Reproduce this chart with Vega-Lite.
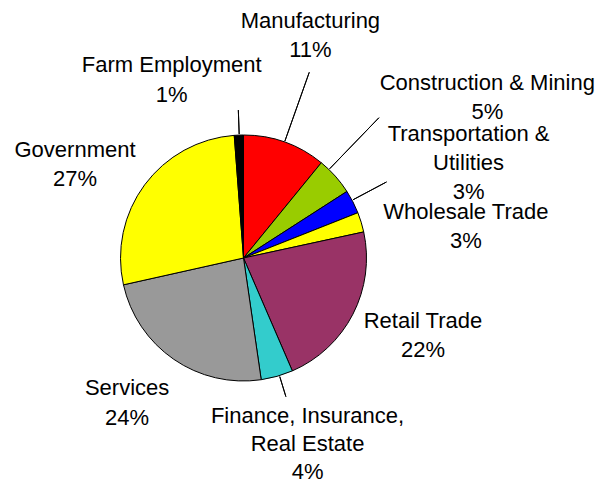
{
  "$schema": "https://vega.github.io/schema/vega-lite/v6.json",
  "width": 487,
  "height": 450,
  "autosize": {"type": "none"},
  "padding": {"left": 0, "top": 33, "right": 123, "bottom": 0},
  "background": "white",
  "config": {"view": {"stroke": null}},
  "data": {
    "values": [
      {"sector": "Manufacturing", "value": 10.9, "order": 1, "label": "Manufacturing\n11%"},
      {"sector": "Construction & Mining", "value": 5.0, "order": 2, "label": "Construction & Mining\n5%"},
      {"sector": "Transportation & Utilities", "value": 3.1, "order": 3, "label": "Transportation &\nUtilities\n3%"},
      {"sector": "Wholesale Trade", "value": 2.6, "order": 4, "label": "Wholesale Trade\n3%"},
      {"sector": "Retail Trade", "value": 21.9, "order": 5, "label": "Retail Trade\n22%"},
      {"sector": "Finance, Insurance, Real Estate", "value": 4.2, "order": 6, "label": "Finance, Insurance,\nReal Estate\n4%"},
      {"sector": "Services", "value": 23.8, "order": 7, "label": "Services\n24%"},
      {"sector": "Government", "value": 27.3, "order": 8, "label": "Government\n27%"},
      {"sector": "Farm Employment", "value": 1.2, "order": 9, "label": "Farm Employment\n1%"}
    ]
  },
  "transform": [
    {"stack": "value", "groupby": [], "sort": [{"field": "order", "order": "ascending"}], "as": ["v0", "v1"]}
  ],
  "layer": [
    {
      "mark": {"type": "arc", "radius": 123, "stroke": "black", "strokeWidth": 1},
      "encoding": {
        "theta": {"field": "v0", "type": "quantitative", "stack": null, "scale": {"domain": [0, 100]}},
        "theta2": {"field": "v1"},
        "color": {
          "field": "sector", "type": "nominal", "legend": null,
          "scale": {
            "domain": ["Manufacturing", "Construction & Mining", "Transportation & Utilities", "Wholesale Trade", "Retail Trade", "Finance, Insurance, Real Estate", "Services", "Government", "Farm Employment"],
            "range": ["#FF0000", "#99CC00", "#0000FF", "#FFFF00", "#993366", "#33CCCC", "#999999", "#FFFF00", "#000000"]
          }
        }
      }
    },
    {
      "transform": [{"filter": "datum.sector === 'Manufacturing'"}],
      "mark": {"type": "arc", "radius": 197, "radius2": 124, "thetaOffset": 0.3403, "theta2Offset": 0.3403, "fillOpacity": 0, "stroke": "black", "strokeWidth": 1},
      "encoding": {"theta": {"field": "v0", "type": "quantitative", "stack": null}, "theta2": {"field": "v0"}}
    },
    {
      "transform": [{"filter": "datum.sector === 'Construction & Mining'"}],
      "mark": {"type": "arc", "radius": 195, "radius2": 124, "thetaOffset": 0.083, "theta2Offset": 0.083, "fillOpacity": 0, "stroke": "black", "strokeWidth": 1},
      "encoding": {"theta": {"field": "v0", "type": "quantitative", "stack": null}, "theta2": {"field": "v0"}}
    },
    {
      "transform": [{"filter": "datum.sector === 'Transportation & Utilities'"}],
      "mark": {"type": "arc", "radius": 162, "radius2": 124, "thetaOffset": 0.0831, "theta2Offset": 0.0831, "fillOpacity": 0, "stroke": "black", "strokeWidth": 1},
      "encoding": {"theta": {"field": "v0", "type": "quantitative", "stack": null}, "theta2": {"field": "v0"}}
    },
    {
      "transform": [{"filter": "datum.sector === 'Finance, Insurance, Real Estate'"}],
      "mark": {"type": "arc", "radius": 145, "radius2": 124, "thetaOffset": 0.1117, "theta2Offset": 0.1117, "fillOpacity": 0, "stroke": "black", "strokeWidth": 1},
      "encoding": {"theta": {"field": "v0", "type": "quantitative", "stack": null}, "theta2": {"field": "v0"}}
    },
    {
      "transform": [{"filter": "datum.sector === 'Farm Employment'"}],
      "mark": {"type": "arc", "radius": 148, "radius2": 124, "thetaOffset": 0.0405, "theta2Offset": 0.0405, "fillOpacity": 0, "stroke": "black", "strokeWidth": 1},
      "encoding": {"theta": {"field": "v0", "type": "quantitative", "stack": null}, "theta2": {"field": "v0"}}
    },
    {
      "mark": {"type": "text", "radius": 232, "dx": -11, "dy": -18, "font": "Liberation Sans", "fontSize": 22, "lineBreak": "\n", "lineHeight": 29, "align": "center", "baseline": "middle", "color": "black"},
      "encoding": {"theta": {"field": "value", "type": "quantitative", "stack": true}, "order": {"field": "order", "type": "quantitative"}, "text": {"condition": {"test": "datum.sector === 'Manufacturing'", "field": "label"}, "value": ""}}
    },
    {
      "mark": {"type": "text", "radius": 288, "dx": 29, "dy": 17, "font": "Liberation Sans", "fontSize": 22, "lineBreak": "\n", "lineHeight": 29, "align": "center", "baseline": "middle", "color": "black"},
      "encoding": {"theta": {"field": "value", "type": "quantitative", "stack": true}, "order": {"field": "order", "type": "quantitative"}, "text": {"condition": {"test": "datum.sector === 'Construction & Mining'", "field": "label"}, "value": ""}}
    },
    {
      "mark": {"type": "text", "radius": 244, "dx": 8, "dy": -13, "font": "Liberation Sans", "fontSize": 22, "lineBreak": "\n", "lineHeight": 29, "align": "center", "baseline": "middle", "color": "black"},
      "encoding": {"theta": {"field": "value", "type": "quantitative", "stack": true}, "order": {"field": "order", "type": "quantitative"}, "text": {"condition": {"test": "datum.sector === 'Transportation & Utilities'", "field": "label"}, "value": ""}}
    },
    {
      "mark": {"type": "text", "radius": 222, "dx": 10, "dy": 19, "font": "Liberation Sans", "fontSize": 22, "lineBreak": "\n", "lineHeight": 29, "align": "center", "baseline": "middle", "color": "black"},
      "encoding": {"theta": {"field": "value", "type": "quantitative", "stack": true}, "order": {"field": "order", "type": "quantitative"}, "text": {"condition": {"test": "datum.sector === 'Wholesale Trade'", "field": "label"}, "value": ""}}
    },
    {
      "mark": {"type": "text", "radius": 195, "dx": 6, "dy": -26, "font": "Liberation Sans", "fontSize": 22, "lineBreak": "\n", "lineHeight": 29, "align": "center", "baseline": "middle", "color": "black"},
      "encoding": {"theta": {"field": "value", "type": "quantitative", "stack": true}, "order": {"field": "order", "type": "quantitative"}, "text": {"condition": {"test": "datum.sector === 'Retail Trade'", "field": "label"}, "value": ""}}
    },
    {
      "mark": {"type": "text", "radius": 198, "dx": 10, "dy": -32, "font": "Liberation Sans", "fontSize": 22, "lineBreak": "\n", "lineHeight": 28, "align": "center", "baseline": "middle", "color": "black"},
      "encoding": {"theta": {"field": "value", "type": "quantitative", "stack": true}, "order": {"field": "order", "type": "quantitative"}, "text": {"condition": {"test": "datum.sector === 'Finance, Insurance, Real Estate'", "field": "label"}, "value": ""}}
    },
    {
      "mark": {"type": "text", "radius": 184, "dx": -12, "dy": -22, "font": "Liberation Sans", "fontSize": 22, "lineBreak": "\n", "lineHeight": 30, "align": "center", "baseline": "middle", "color": "black"},
      "encoding": {"theta": {"field": "value", "type": "quantitative", "stack": true}, "order": {"field": "order", "type": "quantitative"}, "text": {"condition": {"test": "datum.sector === 'Services'", "field": "label"}, "value": ""}}
    },
    {
      "mark": {"type": "text", "radius": 191, "dx": -15, "dy": 6, "font": "Liberation Sans", "fontSize": 22, "lineBreak": "\n", "lineHeight": 29, "align": "center", "baseline": "middle", "color": "black"},
      "encoding": {"theta": {"field": "value", "type": "quantitative", "stack": true}, "order": {"field": "order", "type": "quantitative"}, "text": {"condition": {"test": "datum.sector === 'Government'", "field": "label"}, "value": ""}}
    },
    {
      "mark": {"type": "text", "radius": 180, "dx": -65, "dy": -13, "font": "Liberation Sans", "fontSize": 22, "lineBreak": "\n", "lineHeight": 30, "align": "center", "baseline": "middle", "color": "black"},
      "encoding": {"theta": {"field": "value", "type": "quantitative", "stack": true}, "order": {"field": "order", "type": "quantitative"}, "text": {"condition": {"test": "datum.sector === 'Farm Employment'", "field": "label"}, "value": ""}}
    }
  ]
}
